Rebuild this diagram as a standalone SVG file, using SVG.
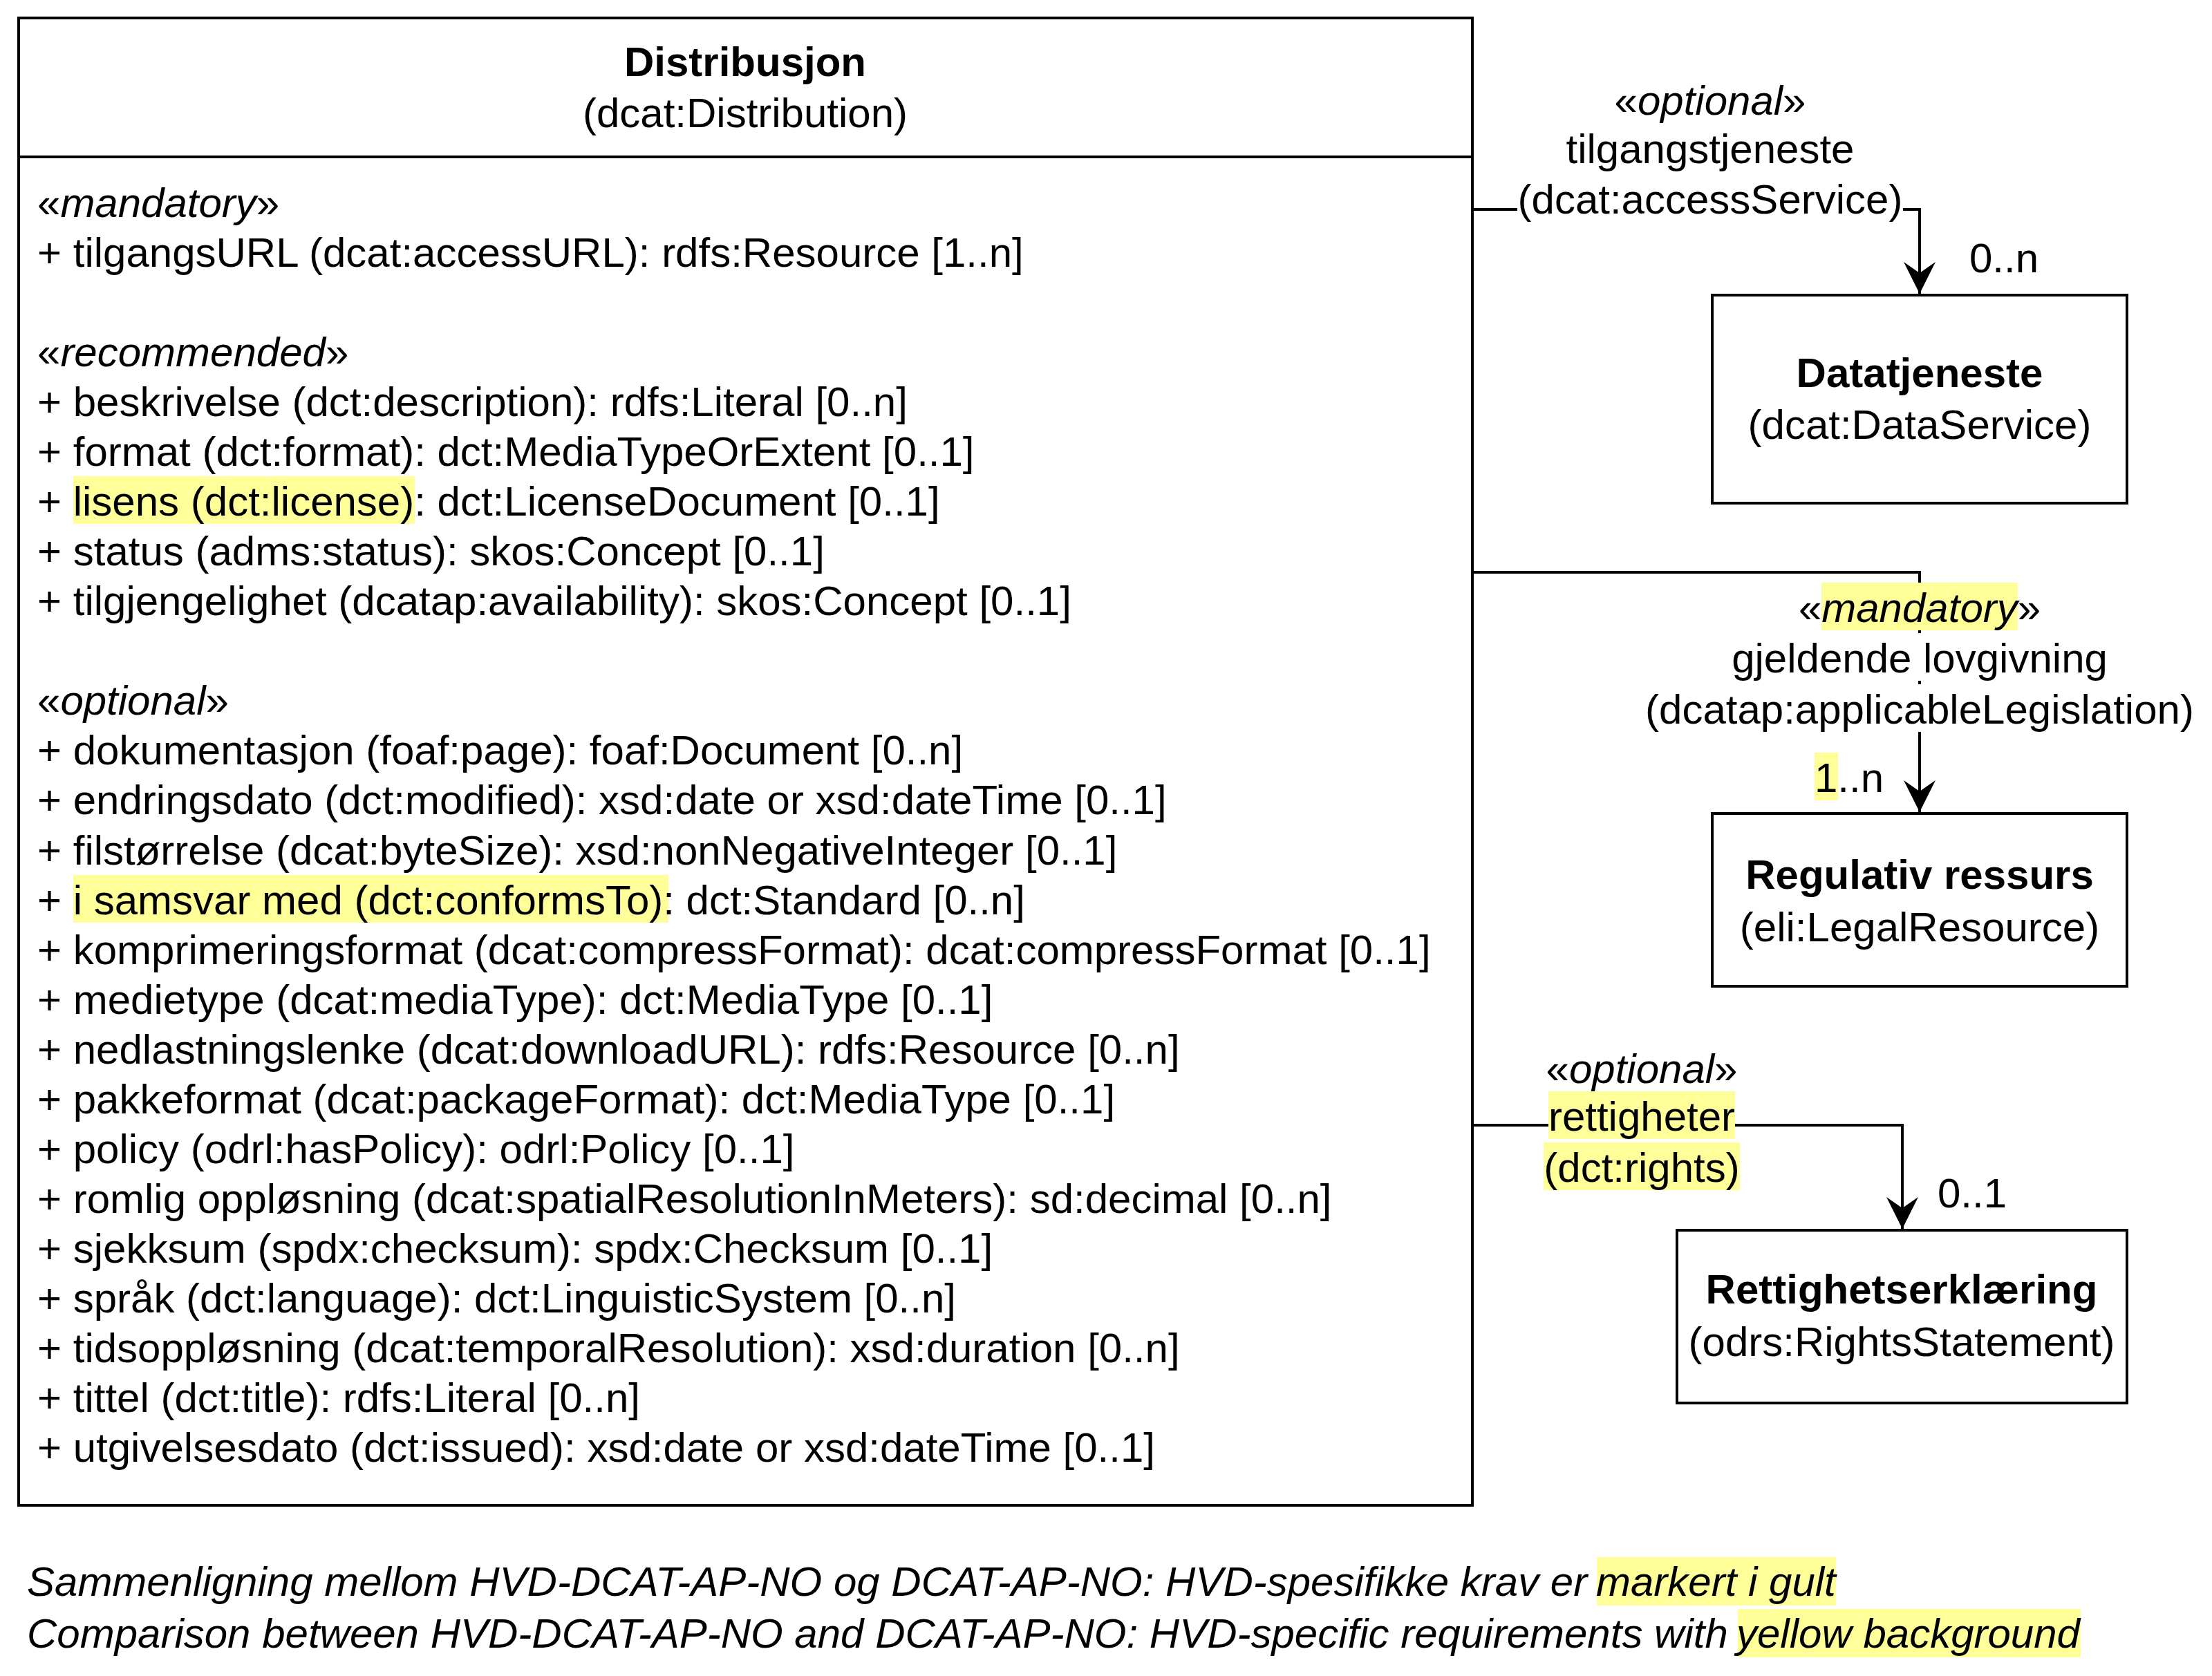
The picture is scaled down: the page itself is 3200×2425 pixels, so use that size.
<svg xmlns="http://www.w3.org/2000/svg" width="3200" height="2425" viewBox="0 0 3200 2425">
<style>
text{font-family:"Liberation Sans",Arial,Helvetica,sans-serif;font-size:60px;fill:#000}
.b{font-weight:bold}
.i{font-style:italic}
.m{text-anchor:middle}
.box{fill:#fff;stroke:#000;stroke-width:4}
.edge{fill:none;stroke:#000;stroke-width:4}
.hl{fill:#ffff99}
.bg{fill:#fff}
.cap{font-style:italic;font-size:60px}
</style>
<defs>
<marker id="arr" viewBox="0 0 46 46" refX="46" refY="23" markerWidth="46" markerHeight="46" markerUnits="userSpaceOnUse" orient="auto">
<path d="M46,23 L0,0 L16,23 L0,46 Z" fill="#000"/>
</marker>
</defs>
<rect width="3200" height="2425" fill="#fff"/>

<g id="connectors">
<path class="edge" d="M2130,303 H2777 V425" marker-end="url(#arr)"/>
<path class="edge" d="M2130,828 H2777 V1175" marker-end="url(#arr)"/>
<path class="edge" d="M2130,1628 H2752 V1778" marker-end="url(#arr)"/>
<g id="label-accessService">
<rect class="bg" x="2195" y="252" width="558" height="69"/>
<text class="m" x="2474" y="166">«<tspan class="i">optional</tspan>»</text>
<text class="m" x="2474" y="236">tilgangstjeneste</text>
<text class="m" x="2474" y="309">(dcat:accessService)</text>
<text x="2849" y="394">0..n</text>
</g>
<g id="label-applicableLegislation">
<rect class="bg" x="2602" y="843" width="350" height="69"/>
<rect class="hl" x="2635" y="843" width="284" height="69"/>
<rect class="bg" x="2505" y="916" width="544" height="69"/>
<rect class="bg" x="2380" y="990" width="794" height="69"/>
<text class="m" x="2777" y="900">«<tspan class="i">mandatory</tspan>»</text>
<text class="m" x="2777" y="973">gjeldende lovgivning</text>
<text class="m" x="2777" y="1047">(dcatap:applicableLegislation)</text>
<rect class="hl" x="2625" y="1089" width="34" height="69"/>
<text x="2625" y="1146">1..n</text>
</g>
<g id="label-rights">
<rect class="hl" x="2240" y="1579" width="270" height="69"/>
<rect class="hl" x="2233" y="1653" width="284" height="69"/>
<text class="m" x="2375" y="1567">«<tspan class="i">optional</tspan>»</text>
<text class="m" x="2375" y="1636">rettigheter</text>
<text class="m" x="2375" y="1710">(dct:rights)</text>
<text x="2803" y="1747">0..1</text>
</g>
</g>

<g id="node-distribusjon">
<rect class="box" x="27" y="26" width="2103" height="2152"/>
<line x1="27" y1="227" x2="2130" y2="227" stroke="#000" stroke-width="4"/>
<text class="b m" x="1078" y="110">Distribusjon</text>
<text class="m" x="1078" y="184">(dcat:Distribution)</text>
<rect class="hl" x="106" y="689" width="494" height="69"/>
<rect class="hl" x="106" y="1266" width="861" height="69"/>
<text x="54" y="314">«<tspan class="i">mandatory</tspan>»</text>
<text x="54" y="386">+ tilgangsURL (dcat:accessURL): rdfs:Resource [1..n]</text>
<text x="54" y="530">«<tspan class="i">recommended</tspan>»</text>
<text x="54" y="602">+ beskrivelse (dct:description): rdfs:Literal [0..n]</text>
<text x="54" y="674">+ format (dct:format): dct:MediaTypeOrExtent [0..1]</text>
<text x="54" y="746">+ lisens (dct:license): dct:LicenseDocument [0..1]</text>
<text x="54" y="818">+ status (adms:status): skos:Concept [0..1]</text>
<text x="54" y="890">+ tilgjengelighet (dcatap:availability): skos:Concept [0..1]</text>
<text x="54" y="1034">«<tspan class="i">optional</tspan>»</text>
<text x="54" y="1106">+ dokumentasjon (foaf:page): foaf:Document [0..n]</text>
<text x="54" y="1178">+ endringsdato (dct:modified): xsd:date or xsd:dateTime [0..1]</text>
<text x="54" y="1251">+ filstørrelse (dcat:byteSize): xsd:nonNegativeInteger [0..1]</text>
<text x="54" y="1323">+ i samsvar med (dct:conformsTo): dct:Standard [0..n]</text>
<text x="54" y="1395">+ komprimeringsformat (dcat:compressFormat): dcat:compressFormat [0..1]</text>
<text x="54" y="1467">+ medietype (dcat:mediaType): dct:MediaType [0..1]</text>
<text x="54" y="1539">+ nedlastningslenke (dcat:downloadURL): rdfs:Resource [0..n]</text>
<text x="54" y="1611">+ pakkeformat (dcat:packageFormat): dct:MediaType [0..1]</text>
<text x="54" y="1683">+ policy (odrl:hasPolicy): odrl:Policy [0..1]</text>
<text x="54" y="1755">+ romlig oppløsning (dcat:spatialResolutionInMeters): sd:decimal [0..n]</text>
<text x="54" y="1827">+ sjekksum (spdx:checksum): spdx:Checksum [0..1]</text>
<text x="54" y="1899">+ språk (dct:language): dct:LinguisticSystem [0..n]</text>
<text x="54" y="1971">+ tidsoppløsning (dcat:temporalResolution): xsd:duration [0..n]</text>
<text x="54" y="2043">+ tittel (dct:title): rdfs:Literal [0..n]</text>
<text x="54" y="2115">+ utgivelsesdato (dct:issued): xsd:date or xsd:dateTime [0..1]</text>
</g>

<g id="node-datatjeneste">
<rect class="box" x="2477" y="427" width="600" height="301"/>
<text class="b m" x="2777" y="560">Datatjeneste</text>
<text class="m" x="2777" y="635">(dcat:DataService)</text>
</g>

<g id="node-regulativ">
<rect class="box" x="2477" y="1177" width="600" height="250"/>
<text class="b m" x="2777" y="1286">Regulativ ressurs</text>
<text class="m" x="2777" y="1362">(eli:LegalResource)</text>
</g>

<g id="node-rettighetserklaering">
<rect class="box" x="2426" y="1780" width="651" height="250"/>
<text class="b m" x="2751" y="1886">Rettighetserklæring</text>
<text class="m" x="2751" y="1962">(odrs:RightsStatement)</text>
</g>

<g id="caption">
<rect class="hl" x="2310" y="2253" width="346" height="70"/>
<rect class="hl" x="2514" y="2328" width="496" height="70"/>
<text class="cap" x="39" y="2309">Sammenligning mellom HVD-DCAT-AP-NO og DCAT-AP-NO: HVD-spesifikke krav er <tspan x="2309">markert i gult</tspan></text>
<text class="cap" x="39" y="2384">Comparison between HVD-DCAT-AP-NO and DCAT-AP-NO: HVD-specific requirements with <tspan x="2512">yellow background</tspan></text>
</g>
</svg>
